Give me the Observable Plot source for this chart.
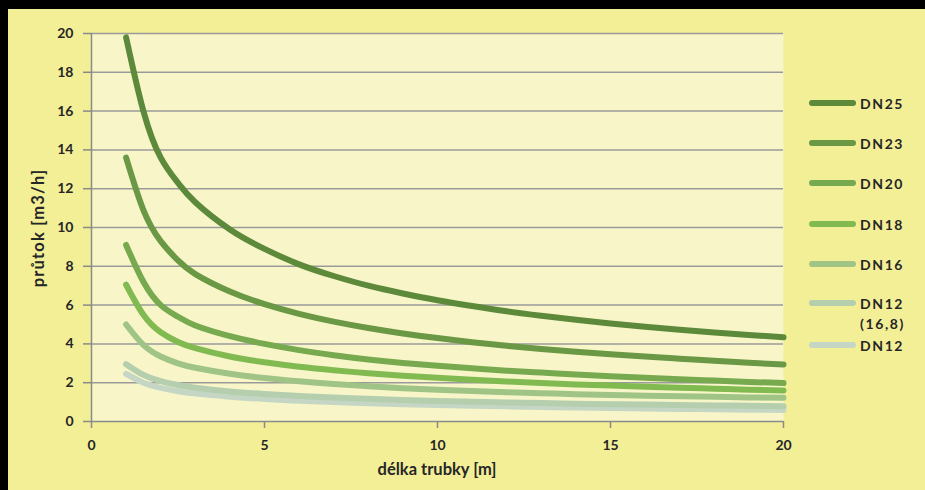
<!DOCTYPE html>
<html>
<head>
<meta charset="utf-8">
<script src="https://cdn.jsdelivr.net/npm/d3@7"></script>
<script src="https://cdn.jsdelivr.net/npm/@observablehq/plot@0.6"></script>
<style>
  html, body { margin: 0; padding: 0; background: #000; }
  #wrap { position: relative; width: 925px; height: 490px; background: #000; overflow: hidden; }
  #panel { position: absolute; left: 8px; top: 9px; width: 917px; height: 481px; background: #f3ef97; }
  #panel svg { position: absolute; left: 0; top: 0; }
  .lbl { position: absolute; font-family: Lato, "Open Sans", sans-serif; font-weight: 700; color: #262626; white-space: nowrap; }
  .leg { position: absolute; font-family: Lato, "Open Sans", sans-serif; font-weight: 700; font-size: 14px; letter-spacing: 1.6px; color: #262626; line-height: 20px; }
  .sw { position: absolute; height: 6px; border-radius: 3px; width: 47px; }
</style>
</head>
<body>
<div id="wrap"><div id="panel"></div></div>
<script>
const xs = [1,1.5,2,2.5,3,4,5,6,7,8,9,10,11,12,13,14,15,16,17,18,19,20];
const seriesNames = ["DN25","DN23","DN20","DN18","DN16","DN12 (16,8)","DN12"];
const seriesColors = ["#5c893a","#6a9844","#77a94f","#82ba52","#a0c486","#b4ceae","#c5d7c4"];
const DN25     = [19.8,16.0,13.6,12.3,11.3,9.9,8.9,8.1,7.5,7.0,6.6,6.25,5.95,5.68,5.45,5.24,5.05,4.88,4.73,4.59,4.46,4.34];
const DN23     = [13.6,10.9,9.3,8.3,7.6,6.7,6.05,5.55,5.15,4.82,4.54,4.3,4.09,3.9,3.74,3.6,3.47,3.35,3.24,3.13,3.03,2.94];
const DN20     = [9.1,7.2,6.0,5.4,4.95,4.4,4.0,3.68,3.42,3.2,3.02,2.87,2.74,2.62,2.52,2.42,2.33,2.25,2.18,2.11,2.04,1.98];
const DN18     = [7.05,5.5,4.6,4.1,3.78,3.35,3.05,2.82,2.64,2.49,2.36,2.25,2.15,2.06,1.98,1.91,1.85,1.79,1.74,1.69,1.64,1.6];
const DN16     = [5.0,3.95,3.35,3.0,2.77,2.46,2.24,2.07,1.93,1.82,1.72,1.64,1.57,1.51,1.46,1.41,1.37,1.33,1.3,1.27,1.24,1.22];
const DN12_168 = [2.95,2.4,2.08,1.88,1.74,1.55,1.42,1.32,1.24,1.17,1.11,1.06,1.02,0.98,0.95,0.92,0.89,0.87,0.85,0.83,0.81,0.79];
const DN12     = [2.45,2.0,1.73,1.56,1.44,1.28,1.16,1.07,1.0,0.94,0.89,0.85,0.81,0.78,0.75,0.72,0.7,0.67,0.65,0.63,0.61,0.59];
const yTicks = [0,2,4,6,8,10,12,14,16,18,20];
const xTicks = [0,5,10,15,20];
const xLabel = "délka trubky [m]";
const yLabel = "průtok [m3/h]";
const legendLabels = ["DN25","DN23","DN20","DN18","DN16","DN12\n(16,8)","DN12"];

const allSeries = [DN25, DN23, DN20, DN18, DN16, DN12_168, DN12];
const data = [];
// draw lightest first so darker lines lie on top
for (let s = allSeries.length - 1; s >= 0; s--) {
  allSeries[s].forEach((v, i) => data.push({series: seriesNames[s], x: xs[i], y: v}));
}

const W = 917, H = 481;
const mL = 83, mT = 24, mR = 142, mB = 69;

const chart = Plot.plot({
  width: W, height: H,
  marginLeft: mL, marginTop: mT, marginRight: mR, marginBottom: mB,
  style: {fontFamily: "Lato, 'Open Sans', sans-serif", fontSize: "14px", fontWeight: "700", color: "#262626", background: "transparent", overflow: "visible"},
  x: {domain: [0, 20]},
  y: {domain: [0, 20]},
  color: {domain: seriesNames, range: seriesColors},
  marks: [
    Plot.frame({fill: "#f8f6c9", stroke: null}),
    Plot.ruleY(yTicks.filter(d => d > 0), {stroke: "#9a9a9a", strokeWidth: 1.5, strokeOpacity: 1, x1: 0, x2: 20}),
    Plot.axisY({ticks: yTicks, tickSize: 8, tickPadding: 10, stroke: "#8a8a8a", strokeWidth: 1.5, label: null, fontSize: 14}),
    Plot.axisX({ticks: xTicks, tickSize: 7, tickPadding: 12, stroke: "#8a8a8a", strokeWidth: 1.5, label: null, fontSize: 14}),
    Plot.ruleX([0], {stroke: "#8a8a8a", strokeWidth: 1.5}),
    Plot.ruleY([0], {stroke: "#8a8a8a", strokeWidth: 1.5, x1: 0, x2: 20}),
    Plot.lineY(data, {x: "x", y: "y", z: "series", stroke: "series", strokeWidth: 6, curve: "natural", strokeLinecap: "round"})
  ]
});
const panel = document.getElementById("panel");
panel.appendChild(chart);

// axis titles
const xl = document.createElement("div");
xl.className = "lbl"; xl.textContent = xLabel; xl.style.fontSize = "16.5px";
xl.style.left = (mL + (W - mL - mR) / 2 - 90) + "px"; xl.style.width = "180px"; xl.style.textAlign = "center";
xl.style.top = (H - 31) + "px";
panel.appendChild(xl);
const yl = document.createElement("div");
yl.className = "lbl"; yl.textContent = yLabel; yl.style.fontSize = "16.5px"; yl.style.letterSpacing = "1.2px";
yl.style.width = "160px"; yl.style.textAlign = "center"; yl.style.lineHeight = "20px";
yl.style.left = (30 - 80) + "px"; yl.style.top = (228 - 9 - 10) + "px";
yl.style.transform = "rotate(-90deg)";
panel.appendChild(yl);

// legend
const legY = [94, 134, 174, 215, 255, 294, 336];
seriesNames.forEach((n, i) => {
  const sw = document.createElement("div");
  sw.className = "sw"; sw.style.background = seriesColors[i];
  sw.style.left = (809 - 8) + "px"; sw.style.top = (legY[i] - 3) + "px";
  panel.appendChild(sw);
  const t = document.createElement("div");
  t.className = "leg"; t.innerHTML = legendLabels[i].replace("\n", "<br>");
  t.style.left = (860 - 8) + "px"; t.style.top = (legY[i] - 9) + "px";
  panel.appendChild(t);
});
</script>
</body>
</html>
